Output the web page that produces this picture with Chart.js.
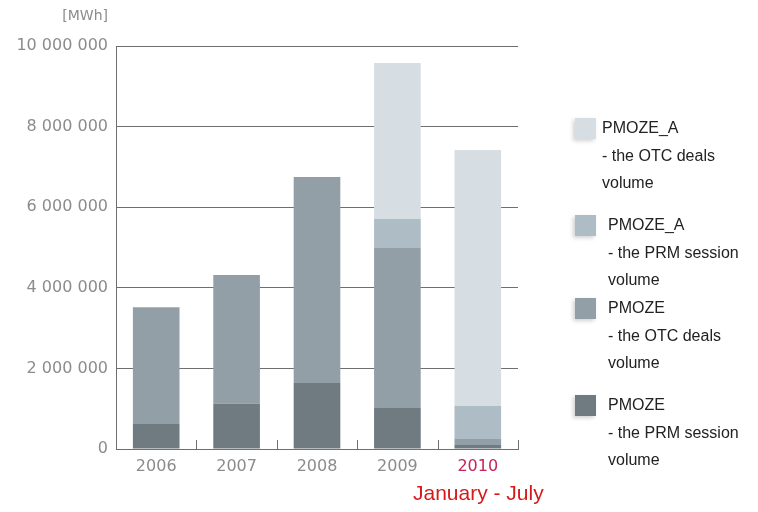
<!DOCTYPE html>
<html>
<head>
<meta charset="utf-8">
<script src="https://cdn.jsdelivr.net/npm/chart.js@4/dist/chart.umd.min.js"></script>
<style>
  html, body { margin: 0; padding: 0; background: #fff; }
  #wrap { position: relative; width: 758px; height: 512px; overflow: hidden; }
  #chart { position: absolute; left: 0; top: 0; }
  .unit { position: absolute; right: 650px; top: 7px; font: 14px "DejaVu Sans", sans-serif; color: #8c8c8c; }
  .period { position: absolute; left: 413px; top: 482px; font: 21px/21px "Liberation Sans", Arial, sans-serif; color: #d41a1a; white-space: nowrap; }
  .lg { position: absolute; font: 16px/27.5px "Liberation Sans", Arial, sans-serif; color: #222; white-space: nowrap; }
  .lg i { position: absolute; top: 4px; width: 21px; height: 21px; box-shadow: -2px 2px 4px rgba(0,0,0,0.18); }
</style>
</head>
<body>
<div id="wrap">
  <canvas id="chart" width="758" height="512"></canvas>
  <div class="unit">[MWh]</div>
  <div class="period">January - July</div>
  <div id="legend"></div>
</div>
<script>
  // values in MWh
  var YEARS = ["2006", "2007", "2008", "2009", "2010"];
  var PMOZE_PRM   = [620000, 1120000, 1640000, 1020000, 100000];
  var PMOZE_OTC   = [2900000, 3200000, 5110000, 3970000, 150000];
  var PMOZEA_PRM  = [0, 0, 0, 720000, 820000];
  var PMOZEA_OTC  = [0, 0, 0, 3870000, 6350000];
  var Y_TICKS = [0, 2000000, 4000000, 6000000, 8000000, 10000000];

  var GREY = "#8c8c8c", LINE = "#6f6f6f";
  var C_PRM = "#6f7a81", C_OTC = "#929fa7", C_APRM = "#adbcc5", C_AOTC = "#d6dee4";

  function fmt(v) { return String(v).replace(/\B(?=(\d{3})+(?!\d))/g, " "); }

  // legend entries (top to bottom) with their text positions
  var LEGEND = [
    { color: C_AOTC, lines: ["PMOZE_A", "- the OTC deals", "volume"], x: 602, y: 114 },
    { color: C_APRM, lines: ["PMOZE_A", "- the PRM session", "volume"], x: 608, y: 211 },
    { color: C_OTC,  lines: ["PMOZE", "- the OTC deals", "volume"], x: 608, y: 294 },
    { color: C_PRM,  lines: ["PMOZE", "- the PRM session", "volume"], x: 608, y: 391 }
  ];
  var lg = document.getElementById("legend");
  LEGEND.forEach(function (e) {
    var d = document.createElement("div");
    d.className = "lg";
    d.style.left = e.x + "px";
    d.style.top = e.y + "px";
    d.innerHTML = "<i style='background:" + e.color + ";left:" + (575 - e.x) + "px'></i>" +
      e.lines.map(function (t) { return "<div>" + t + "</div>"; }).join("");
    lg.appendChild(d);
  });

  // short upward tick marks on the x axis between categories
  var xTicks = {
    id: "xTicks",
    afterDatasetsDraw: function (chart) {
      var x = chart.scales.x, c = chart.ctx, b = chart.chartArea.bottom;
      c.save();
      c.strokeStyle = LINE; c.lineWidth = 1;
      for (var i = 0; i < YEARS.length; i++) {
        var px = i < YEARS.length - 1 ? (x.getPixelForValue(i) + x.getPixelForValue(i + 1)) / 2 : chart.chartArea.right;
        px = Math.round(px) + 0.5;
        c.beginPath(); c.moveTo(px, b); c.lineTo(px, b - 9); c.stroke();
      }
      c.restore();
    }
  };

  new Chart(document.getElementById("chart"), {
    type: "bar",
    data: {
      labels: YEARS,
      datasets: [
        { label: "PMOZE - the PRM session volume", data: PMOZE_PRM, backgroundColor: C_PRM },
        { label: "PMOZE - the OTC deals volume", data: PMOZE_OTC, backgroundColor: C_OTC },
        { label: "PMOZE_A - the PRM session volume", data: PMOZEA_PRM, backgroundColor: C_APRM },
        { label: "PMOZE_A - the OTC deals volume", data: PMOZEA_OTC, backgroundColor: C_AOTC }
      ]
    },
    options: {
      responsive: false, animation: false,
      layout: { padding: { left: 0, right: 240, top: 46, bottom: 0 } },
      datasets: { bar: { barPercentage: 0.58, categoryPercentage: 1, borderWidth: 0 } },
      plugins: { legend: { display: false }, tooltip: { enabled: false } },
      scales: {
        x: {
          stacked: true,
          grid: { display: false, drawTicks: false },
          border: { display: true, color: LINE, width: 1 },
          ticks: {
            padding: 8,
            color: function (ctx) { return ctx.index === 4 ? "#c4245a" : GREY; },
            font: { family: "DejaVu Sans", size: 16 }
          },
          afterFit: function (s) { s.height = 63; }
        },
        y: {
          stacked: true, min: 0, max: 10000000,
          afterBuildTicks: function (s) { s.ticks = Y_TICKS.map(function (v) { return { value: v }; }); },
          grid: { color: LINE, lineWidth: 1, drawTicks: false },
          border: { display: true, color: LINE, width: 1 },
          ticks: {
            padding: 8, color: GREY,
            font: { family: "DejaVu Sans", size: 16 },
            callback: function (v) { return fmt(v); }
          },
          afterFit: function (s) { s.width = 116; }
        }
      }
    },
    plugins: [xTicks]
  });
</script>
</body>
</html>
